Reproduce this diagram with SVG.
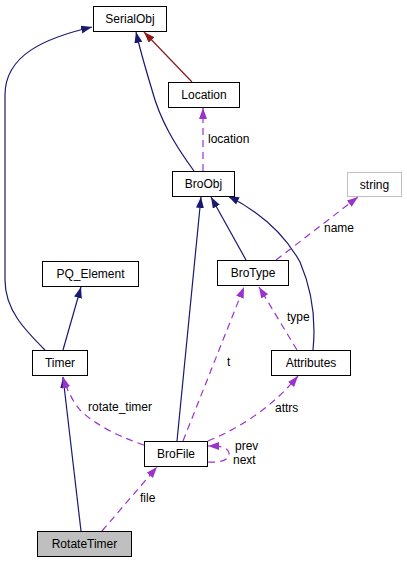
<svg xmlns="http://www.w3.org/2000/svg" width="407" height="563" viewBox="0 0 407 563">
<style>
.n rect{fill:#fff;stroke:#000;stroke-width:1}
text{font-family:"Liberation Sans",Arial,sans-serif;font-size:12px;fill:#000}
.n text{text-anchor:middle}
.e path{fill:none;stroke-width:1.2}
.nv{stroke:#191970}
.dr{stroke:#8b1a1a}
.pu{stroke:#9a32cd;stroke-dasharray:7,5}
</style>
<defs>
<marker id="an" markerUnits="userSpaceOnUse" markerWidth="12" markerHeight="10" refX="11" refY="4" orient="auto"><path d="M0,0L11,4L0,8z" fill="#191970"/></marker>
<marker id="ar" markerUnits="userSpaceOnUse" markerWidth="12" markerHeight="10" refX="11" refY="4" orient="auto"><path d="M0,0L11,4L0,8z" fill="#8b1a1a"/></marker>
<marker id="ap" markerUnits="userSpaceOnUse" markerWidth="12" markerHeight="10" refX="11" refY="4" orient="auto"><path d="M0,0L11,4L0,8z" fill="#9a32cd"/></marker>
</defs>
<rect width="407" height="563" fill="#fff"/>
<g id="edges" class="e">
<path class="nv" d="M45,350 C25,330 5,310 5,280 L5,95 C5,55 45,38 92,27" marker-end="url(#an)"/>
<path class="nv" d="M63,350 L81,287" marker-end="url(#an)"/>
<path class="nv" d="M81,531 L63,377" marker-end="url(#an)"/>
<path class="nv" d="M194,171 C175,145 160,120 152,90 C146,70 140,50 136,32" marker-end="url(#an)"/>
<path class="dr" d="M192,82 L144,32" marker-end="url(#ar)"/>
<path class="pu" d="M203,171 L203,108" marker-end="url(#ap)"/>
<path class="nv" d="M246,260 L211,197" marker-end="url(#an)"/>
<path class="nv" d="M313,350 C316,320 312,290 300,262 C285,235 260,212 228,196" marker-end="url(#an)"/>
<path class="nv" d="M177,441 L201,197" marker-end="url(#an)"/>
<path class="pu" d="M276,260 L358,197" marker-end="url(#ap)"/>
<path class="pu" d="M297,350 L259,287" marker-end="url(#ap)"/>
<path class="pu" d="M183,441 L244,287" marker-end="url(#ap)"/>
<path class="pu" d="M208,441 C235,430 270,410 298,376" marker-end="url(#ap)"/>
<path class="pu" d="M144,445 C120,437 95,425 80,410 C72,400 67,390 63,377" marker-end="url(#ap)"/>
<path class="pu" d="M208,462 C220,463 230,460 229,453 C228,447 220,446 208,446" marker-end="url(#ap)"/>
<path class="pu" d="M102,531 L157,467" marker-end="url(#ap)"/>
</g>
<g class="lbl">
<text x="208" y="143">location</text>
<text x="324" y="232">name</text>
<text x="287" y="321">type</text>
<text x="227" y="366">t</text>
<text x="275" y="412">attrs</text>
<text x="88" y="411">rotate_timer</text>
<text x="235" y="450">prev</text>
<text x="233" y="464">next</text>
<text x="140" y="502">file</text>
</g>
<g id="SerialObj" class="n"><rect x="93.5" y="6.5" width="73" height="25"/><text x="130" y="23">SerialObj</text></g>
<g id="Location" class="n"><rect x="168.5" y="82.5" width="71" height="25"/><text x="204" y="99">Location</text></g>
<g id="BroObj" class="n"><rect x="172.5" y="171.5" width="62" height="25"/><text x="203.5" y="188">BroObj</text></g>
<g id="string" class="n"><rect x="347.5" y="172.5" width="54" height="24" style="stroke:#bfbfbf"/><text x="374.5" y="188.5">string</text></g>
<g id="BroType" class="n"><rect x="217.5" y="260.5" width="71" height="25"/><text x="253" y="277">BroType</text></g>
<g id="PQ_Element" class="n"><rect x="42.5" y="261.5" width="96" height="25"/><text x="90.5" y="278">PQ_Element</text></g>
<g id="Attributes" class="n"><rect x="271.5" y="350.5" width="79" height="25"/><text x="311" y="367">Attributes</text></g>
<g id="Timer" class="n"><rect x="32.5" y="350.5" width="55" height="25"/><text x="60" y="367">Timer</text></g>
<g id="BroFile" class="n"><rect x="144.5" y="441.5" width="63" height="25"/><text x="176" y="458">BroFile</text></g>
<g id="RotateTimer" class="n"><rect x="37.5" y="531.5" width="94" height="25" style="fill:#bfbfbf"/><text x="84.5" y="548">RotateTimer</text></g>
</svg>
